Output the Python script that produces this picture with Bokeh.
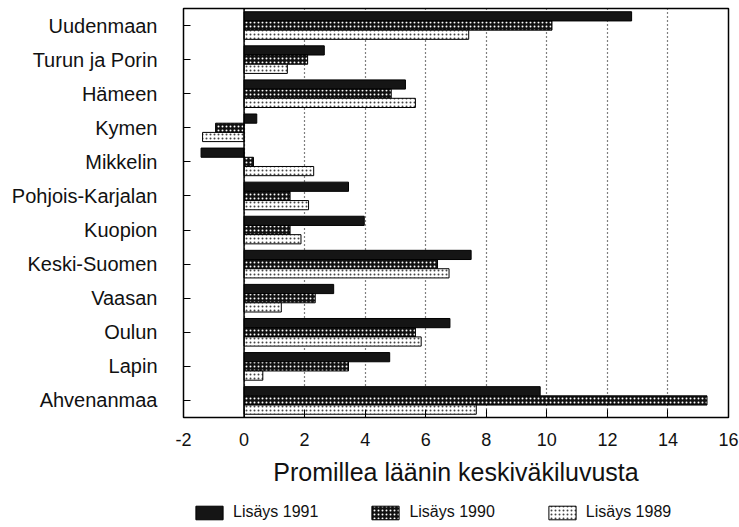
from bokeh.plotting import figure
from bokeh.layouts import column
from bokeh.models import FactorRange, Range1d, Span, Legend, LegendItem, FixedTicker, ColumnDataSource
from bokeh.transform import dodge
from bokeh.embed import file_html
from bokeh.resources import INLINE

categories = ["Uudenmaan", "Turun ja Porin", "Hämeen", "Kymen", "Mikkelin",
              "Pohjois-Karjalan", "Kuopion", "Keski-Suomen", "Vaasan", "Oulun",
              "Lapin", "Ahvenanmaa"]
lisays_1991 = [12.8, 2.65, 5.33, 0.42, -1.42, 3.45, 3.97, 7.5, 2.96, 6.8, 4.81, 9.78]
lisays_1990 = [10.17, 2.1, 4.86, -0.94, 0.31, 1.52, 1.52, 6.39, 2.35, 5.66, 3.45, 15.29]
lisays_1989 = [7.42, 1.43, 5.66, -1.37, 2.3, 2.13, 1.88, 6.77, 1.23, 5.85, 0.62, 7.67]
x_ticks = [-2, 0, 2, 4, 6, 8, 10, 12, 14, 16]
x_tick_labels = ["-2", "0", "2", "4", "6", "8", "10", "12", "14", "16"]
x_title = "Promillea läänin keskiväkiluvusta"
series_names = ["Lisäys 1991", "Lisäys 1990", "Lisäys 1989"]

FONT = "Liberation Sans"

STYLE_1991 = dict(fill_color="#151515", line_color="black", line_width=1)
STYLE_1990 = dict(fill_color="#111111", line_color="black", line_width=1,
                  hatch_pattern="dot", hatch_color="white", hatch_scale=4, hatch_weight=1.5)
STYLE_1989 = dict(fill_color="white", line_color="black", line_width=1,
                  hatch_pattern="dot", hatch_color="#444444", hatch_scale=4, hatch_weight=1.2)

src = ColumnDataSource(dict(cat=categories, v1991=lisays_1991,
                            v1990=lisays_1990, v1989=lisays_1989))

p = figure(y_range=FactorRange(factors=categories[::-1]),
           x_range=Range1d(-2, 16),
           width=739, height=500,
           output_backend="svg", toolbar_location=None)
p.min_border_left = 183
p.min_border_right = 11
p.min_border_top = 8
p.min_border_bottom = 83
p.background_fill_color = "white"
p.border_fill_color = "white"
p.outline_line_color = "black"
p.outline_line_width = 1.5

bh = 0.27
r1 = p.hbar(y=dodge('cat', bh, range=p.y_range), left=0, right='v1991', height=bh,
            source=src, **STYLE_1991)
r2 = p.hbar(y=dodge('cat', 0, range=p.y_range), left=0, right='v1990', height=bh,
            source=src, **STYLE_1990)
r3 = p.hbar(y=dodge('cat', -bh, range=p.y_range), left=0, right='v1989', height=bh,
            source=src, **STYLE_1989)

p.add_layout(Span(location=0, dimension="height", line_color="black", line_width=1.5))

# grid
p.ygrid.grid_line_color = None
p.xgrid.ticker = FixedTicker(ticks=x_ticks)
p.xgrid.grid_line_color = "black"
p.xgrid.grid_line_dash = "1 3"
p.xgrid.grid_line_width = 1.2

# x axis
xa = p.xaxis[0]
xa.ticker = FixedTicker(ticks=x_ticks)
xa.major_label_overrides = {t: l for t, l in zip(x_ticks, x_tick_labels)}
xa.major_tick_in = 8
xa.major_tick_out = 0
xa.minor_tick_line_color = None
xa.major_tick_line_color = "black"
xa.axis_line_color = "black"
xa.major_label_text_font = FONT
xa.major_label_text_font_size = "18px"
xa.major_label_text_color = "#111111"
xa.major_label_standoff = 15
xa.axis_label = x_title
xa.axis_label_text_font = FONT
xa.axis_label_text_font_size = "25px"
xa.axis_label_text_font_style = "normal"
xa.axis_label_text_color = "#111111"
xa.axis_label_standoff = 9

# y axis
ya = p.yaxis[0]
ya.major_tick_in = 7
ya.major_tick_out = 0
ya.major_tick_line_color = "black"
ya.axis_line_color = "black"
ya.major_label_text_font = FONT
ya.major_label_text_font_size = "20px"
ya.major_label_text_color = "#111111"
ya.major_label_standoff = 26

# legend strip: same series, mapped onto a range that holds none of their
# categories (so no bar is drawn), only so that the legend can show swatches
lg = figure(width=739, height=27, x_range=Range1d(-2, 16),
            y_range=FactorRange(factors=["legend"]),
            x_axis_location=None, y_axis_location=None,
            output_backend="svg", toolbar_location=None)
lg.min_border_left = 183
lg.min_border_right = 11
lg.min_border_top = 0
lg.min_border_bottom = 0
lg.outline_line_color = None
lg.grid.visible = False
lg.background_fill_color = "white"
lg.border_fill_color = "white"
l1 = lg.hbar(y='cat', left=0, right='v1991', height=bh, source=src, **STYLE_1991)
l2 = lg.hbar(y='cat', left=0, right='v1990', height=bh, source=src, **STYLE_1990)
l3 = lg.hbar(y='cat', left=0, right='v1989', height=bh, source=src, **STYLE_1989)

legend = Legend(items=[LegendItem(label=series_names[0], renderers=[l1], index=0),
                       LegendItem(label=series_names[1], renderers=[l2], index=0),
                       LegendItem(label=series_names[2], renderers=[l3], index=0)],
                orientation="horizontal", location=(9, 6),
                glyph_width=34, glyph_height=17, label_standoff=7, spacing=50,
                padding=0, margin=0, border_line_color=None,
                label_text_font=FONT, label_text_font_size="16px",
                label_text_color="#111111", background_fill_alpha=0)
lg.add_layout(legend, "center")

layout = column(p, lg, spacing=0)
open("out.html", "w").write(file_html(layout, INLINE))
